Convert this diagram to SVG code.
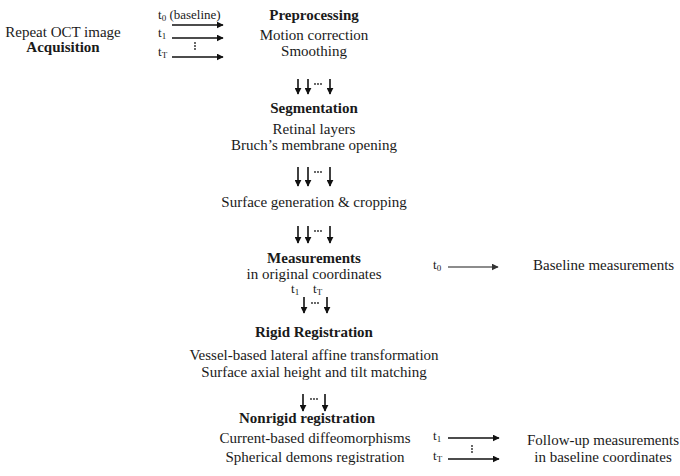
<svg xmlns="http://www.w3.org/2000/svg" width="680" height="476" viewBox="0 0 680 476">
<defs>
<marker id="ah" viewBox="0 0 10 10" refX="9" refY="5" markerWidth="7" markerHeight="7" markerUnits="userSpaceOnUse" orient="auto">
<path d="M0,0 L10,5 L0,10 Z" fill="#111"/>
</marker>
<marker id="ahg" viewBox="0 0 10 10" refX="9" refY="5" markerWidth="7" markerHeight="7" markerUnits="userSpaceOnUse" orient="auto">
<path d="M0,0 L10,5 L0,10 Z" fill="#333"/>
</marker>
<g id="hd"><circle cx="-3" cy="0" r="0.9"/><circle cx="0" cy="0" r="0.9"/><circle cx="3" cy="0" r="0.9"/></g>
<g id="vd"><circle cx="0" cy="-3" r="0.9"/><circle cx="0" cy="0" r="0.9"/><circle cx="0" cy="3" r="0.9"/></g>
</defs>
<style>
text{font-family:"Liberation Serif","Times New Roman",serif;font-size:15px;fill:#1a1a1a}
.c{text-anchor:middle}
.b{font-weight:bold}
.s{font-size:13px}
.sub{font-size:9px}
.a{stroke:#111;stroke-width:1.6;fill:none;marker-end:url(#ah)}
.g{stroke:#666;stroke-width:1.6;fill:none;marker-end:url(#ahg)}
use{fill:#222}
</style>
<rect width="680" height="476" fill="#fff"/>

<g id="acquisition">
<text class="c" x="63" y="37">Repeat OCT image</text>
<text class="c b" x="63" y="52">Acquisition</text>
</g>

<g id="preprocessing">
<text class="c b" x="314" y="20">Preprocessing</text>
<text class="c" x="314" y="40">Motion correction</text>
<text class="c" x="314" y="56">Smoothing</text>
</g>

<g id="segmentation">
<text class="c b" x="314" y="113">Segmentation</text>
<text class="c" x="314" y="134">Retinal layers</text>
<text class="c" x="314" y="150">Bruch’s membrane opening</text>
</g>

<g id="surface">
<text class="c" x="314" y="207">Surface generation &amp; cropping</text>
</g>

<g id="measurements">
<text class="c b" x="314" y="263">Measurements</text>
<text class="c" x="314" y="279">in original coordinates</text>
</g>

<g id="baseline">
<text x="533" y="270">Baseline measurements</text>
</g>

<g id="rigid">
<text class="c b" x="314" y="337">Rigid Registration</text>
<text class="c" x="314" y="360">Vessel-based lateral affine transformation</text>
<text class="c" x="314" y="377">Surface axial height and tilt matching</text>
</g>

<g id="nonrigid">
<text class="c b" x="307" y="423">Nonrigid registration</text>
<text class="c" x="315" y="443">Current-based diffeomorphisms</text>
<text class="c" x="315" y="462">Spherical demons registration</text>
</g>

<g id="followup">
<text class="c" x="603" y="445">Follow-up measurements</text>
<text class="c" x="603" y="462">in baseline coordinates</text>
</g>

<g id="connectors">
<!-- acquisition arrows -->
<text class="s" x="158" y="19">t<tspan class="sub" dy="2">0</tspan><tspan dy="-2"> (baseline)</tspan></text>
<line class="a" x1="172" y1="25" x2="223" y2="25"/>
<text class="s" x="158" y="37">t<tspan class="sub" dy="2">1</tspan></text>
<line class="a" x1="172" y1="38" x2="223" y2="38"/>
<text class="s" x="158" y="56">t<tspan class="sub" dy="2">T</tspan></text>
<line class="a" x1="172" y1="57" x2="223" y2="57"/>
<use href="#vd" x="195" y="46"/>

<!-- preprocessing -> segmentation -->
<line class="a" x1="298" y1="79" x2="298" y2="94"/>
<line class="a" x1="308" y1="79" x2="308" y2="94"/>
<use href="#hd" x="318" y="84"/>
<line class="a" x1="330" y1="79" x2="330" y2="94"/>

<!-- segmentation -> surface -->
<line class="a" x1="298" y1="167" x2="298" y2="186"/>
<line class="a" x1="308" y1="167" x2="308" y2="186"/>
<use href="#hd" x="318" y="172"/>
<line class="a" x1="330" y1="167" x2="330" y2="186"/>

<!-- surface -> measurements -->
<line class="a" x1="298" y1="226" x2="298" y2="243"/>
<line class="a" x1="308" y1="226" x2="308" y2="243"/>
<use href="#hd" x="318" y="231"/>
<line class="a" x1="330" y1="226" x2="330" y2="243"/>

<!-- t0 -> baseline -->
<text class="s" x="433" y="269">t<tspan class="sub" dy="2">0</tspan></text>
<line class="g" x1="448" y1="267" x2="498" y2="267"/>

<!-- measurements -> rigid -->
<text class="s" x="291" y="293">t<tspan class="sub" dy="2">1</tspan></text>
<text class="s" x="313" y="293">t<tspan class="sub" dy="2">T</tspan></text>
<line class="a" x1="304" y1="297" x2="304" y2="313"/>
<use href="#hd" x="315" y="303"/>
<line class="a" x1="327" y1="297" x2="327" y2="313"/>

<!-- rigid -> nonrigid -->
<line class="a" x1="303" y1="394" x2="303" y2="411"/>
<use href="#hd" x="314" y="399"/>
<line class="a" x1="325" y1="394" x2="325" y2="411"/>

<!-- nonrigid -> followup -->
<text class="s" x="433" y="440">t<tspan class="sub" dy="2">1</tspan></text>
<line class="a" x1="448" y1="438" x2="499" y2="438"/>
<text class="s" x="433" y="460">t<tspan class="sub" dy="2">T</tspan></text>
<line class="a" x1="448" y1="459" x2="499" y2="459"/>
<use href="#vd" x="472" y="449"/>
</g>
</svg>
